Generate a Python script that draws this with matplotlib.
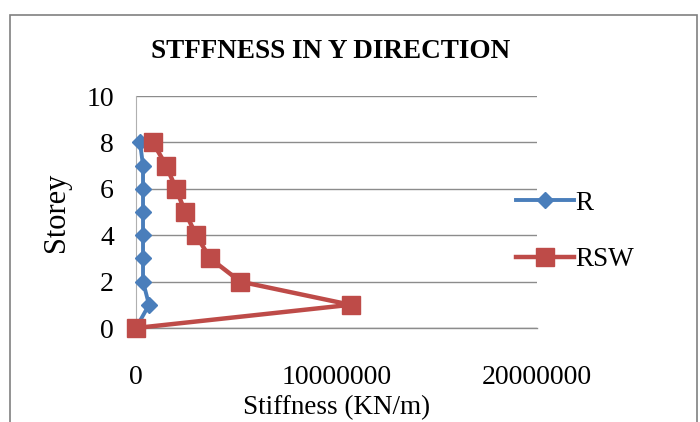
import matplotlib

matplotlib.use("Agg")
import matplotlib.pyplot as plt
from matplotlib.patches import Rectangle

plt.rcParams["font.family"] = ["Liberation Serif", "DejaVu Serif"]

# storey-wise lateral stiffness, Y direction
storeys = [0, 1, 2, 3, 4, 5, 6, 7, 8]
stiff_r = [0, 650000, 350000, 350000, 350000, 350000, 350000, 350000, 200000]
stiff_rsw = [0, 10700000, 5200000, 3700000, 3000000, 2450000, 2000000, 1500000, 850000]

fig = plt.figure(figsize=(7, 4.22), dpi=100)
fig.patches.append(Rectangle((10 / 700, -0.1), 687 / 700, 1.1 - 15 / 422,
                             transform=fig.transFigure, fill=False,
                             edgecolor="#808080", lw=1.2))

ax = fig.add_axes([136 / 700, 1 - 328 / 422, 401 / 700, 232 / 422])

ax.plot(stiff_r, storeys, color="#4a7ebb", lw=2.8, marker="D", ms=8,
        label="R", zorder=3, clip_on=False)
ax.plot(stiff_rsw, storeys, color="#be4b48", lw=3.2, marker="s", ms=13,
        label="RSW", zorder=4, clip_on=False)

ax.set_xlim(0, 20000000)
ax.set_ylim(0, 10)
ax.set_xticks([0, 10000000, 20000000])
ax.set_xticklabels(["0", "10000000", "20000000"])
ax.set_yticks(range(0, 11, 2))
ax.grid(axis="y", color="#8c8c8c", lw=1)
ax.axhline(0, color="#8c8c8c", lw=1, clip_on=False, zorder=1)
ax.set_axisbelow(True)
for s in ["top", "right", "bottom"]:
    ax.spines[s].set_visible(False)
ax.spines["left"].set_color("#b0b0b0")
ax.tick_params(length=0, labelsize=20)
ax.tick_params(axis="y", pad=16)
ax.tick_params(axis="x", pad=27)

ax.set_xlabel("Stiffness (KN/m)", fontsize=19.5, labelpad=3)
ax.set_ylabel("Storey", fontsize=22, labelpad=11)
fig.text(331 / 700, 1 - 52 / 422, "STFFNESS IN Y DIRECTION", ha="center",
         va="center", fontsize=19.5, fontweight="bold")

ax.legend(loc="center left", bbox_to_anchor=(0.886, 0.416), frameon=False,
          fontsize=19.5, handlelength=2.15, labelspacing=1.15,
          handletextpad=0.05)

fig.savefig("out.png", dpi=100)
